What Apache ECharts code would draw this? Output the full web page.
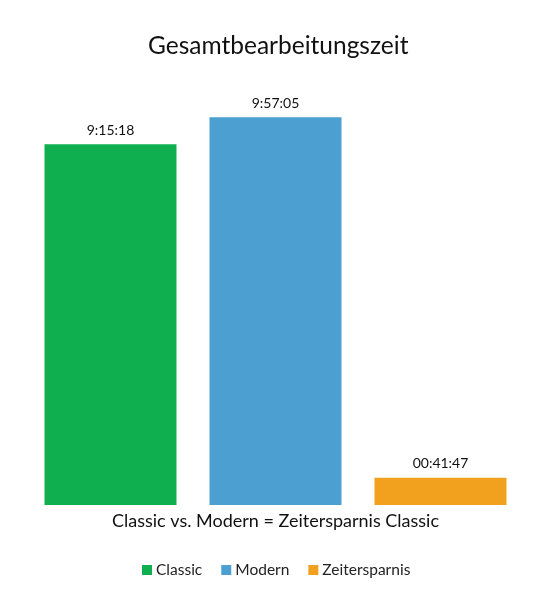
<!DOCTYPE html>
<html>
<head>
<meta charset="utf-8">
<script src="https://cdn.jsdelivr.net/npm/echarts@6/dist/echarts.min.js"></script>
<style>html,body{margin:0;padding:0;background:#fff}#c{width:536px;height:600px}</style>
</head>
<body>
<div id="c"></div>
<script>
const categories = ['Classic vs. Modern = Zeitersparnis Classic'];
const seriesNames = ['Classic', 'Modern', 'Zeitersparnis'];
const valuesSeconds = [33318, 35825, 2507];
const valueLabels = ['9:15:18', '9:57:05', '00:41:47'];
const colors = ['#0fae4f', '#4b9fd1', '#f2a11f'];

const font = 'Lato';
const chart = echarts.init(document.getElementById('c'));
chart.setOption({
  backgroundColor: '#fff',
  animation: false,
  title: {
    text: 'Gesamtbearbeitungszeit',
    left: 143, top: 29,
    textStyle: { fontFamily: font, fontSize: 24.5, fontWeight: 'normal', color: '#111' }
  },
  legend: {
    bottom: 17, left: 137,
    icon: 'rect', itemWidth: 10, itemHeight: 10, itemGap: 19,
    textStyle: { fontFamily: font, fontSize: 15.5, color: '#222', padding: [0, 0, 0, -1] },
    data: seriesNames
  },
  grid: { left: 44, right: 29, top: 72, bottom: 95 },
  xAxis: {
    type: 'category', data: categories,
    axisLine: { show: false }, axisTick: { show: false },
    axisLabel: { fontFamily: font, fontSize: 18, color: '#111', margin: 7 }
  },
  yAxis: { type: 'value', min: 0, max: 40000, show: false, splitLine: { show: false } },
  series: seriesNames.map((n, i) => ({
    name: n, type: 'bar', barWidth: 132, barGap: '25%',
    itemStyle: { color: colors[i] },
    label: {
      show: true, position: 'top', distance: 7,
      fontFamily: font, fontSize: 14, color: '#111',
      formatter: () => valueLabels[i]
    },
    data: [valuesSeconds[i]]
  }))
});
</script>
</body>
</html>
